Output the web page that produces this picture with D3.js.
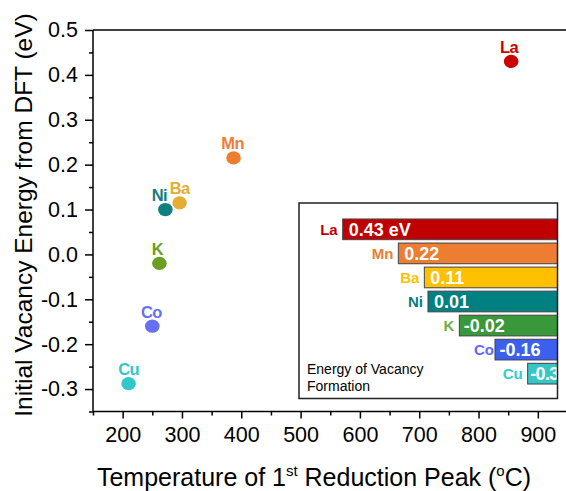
<!DOCTYPE html>
<html>
<head>
<meta charset="utf-8">
<script src="https://cdn.jsdelivr.net/npm/d3@7/dist/d3.min.js"></script>
<style>
  html, body { margin: 0; padding: 0; background: #fff; }
  svg { display: block; font-family: "Liberation Sans", Arial, sans-serif; }
</style>
</head>
<body>
<svg id="chart" width="566" height="491"></svg>
<script>
// ---- data ----
const elements       = ["La", "Mn", "Ba", "Ni", "K", "Co", "Cu"];
const reductionTemp  = [855, 387, 296, 272, 262, 250, 210];          // °C
const vacancyEnergy  = [0.43, 0.215, 0.115, 0.10, -0.02, -0.16, -0.288]; // eV
const insetEnergy    = [0.43, 0.22, 0.11, 0.01, -0.02, -0.16, -0.30];   // eV (inset labels)
const insetBarLength = [100, 74.1, 62.0, 60.3, 45.7, 29.1, 13.9];       // relative bar length (% of La)
const xTicks = [200, 300, 400, 500, 600, 700, 800, 900];
const yTicks = [-0.3, -0.2, -0.1, 0.0, 0.1, 0.2, 0.3, 0.4, 0.5];
const xMinor = [150, 250, 350, 450, 550, 650, 750, 850, 950];
const yMinor = [-0.35, -0.25, -0.15, -0.05, 0.05, 0.15, 0.25, 0.35, 0.45];

// ---- styles ----
const dotColor = {La:"#cc0000", Mn:"#ed7d31", Ba:"#e4ad33", Ni:"#0f7f7f", K:"#6a9f22", Co:"#6670f2", Cu:"#30c8c8"};
const barColor = {La:"#c00000", Mn:"#ed7d31", Ba:"#ffc000", Ni:"#008080", K:"#38983a", Co:"#3d5ff0", Cu:"#36c6c6"};
const insetLabelColor = {La:"#c00000", Mn:"#ed7d31", Ba:"#ffc000", Ni:"#007f7f", K:"#70ad47", Co:"#6666ff", Cu:"#33cccc"};
const labelShift = {La:-2, Ni:-6, Mn:-1, K:-2, Co:-1};

const svg = d3.select("#chart");
svg.append("rect").attr("width", 566).attr("height", 491).attr("fill", "#fff");

const x = d3.scaleLinear().domain([150, 950]).range([93, 567.5]);
const y = d3.scaleLinear().domain([-0.35, 0.5]).range([411.5, 30]);

const axisStroke = 1.5;

// minor ticks
svg.append("g").attr("transform", "translate(93,0)")
  .call(d3.axisLeft(y).tickValues(yMinor).tickSize(4).tickFormat(""))
  .call(g => g.select(".domain").remove())
  .call(g => g.selectAll("line").attr("stroke-width", axisStroke));
svg.append("g").attr("transform", "translate(0,411.5)")
  .call(d3.axisBottom(x).tickValues(xMinor).tickSize(4).tickFormat(""))
  .call(g => g.select(".domain").remove())
  .call(g => g.selectAll("line").attr("stroke-width", axisStroke));

// major axes
svg.append("g").attr("transform", "translate(93,0)")
  .call(d3.axisLeft(y).tickValues(yTicks).tickSize(8).tickPadding(7).tickFormat(d3.format(".1f")))
  .call(g => g.select(".domain").remove())
  .call(g => g.selectAll("line").attr("stroke-width", axisStroke))
  .call(g => g.selectAll("text").attr("font-size", 21.5).attr("fill", "#000")
      .attr("font-family", "Liberation Sans, Arial, sans-serif")
      .text(d => d3.format(".1f")(d).replace("\u2212", "-")));
svg.append("g").attr("transform", "translate(0,411.5)")
  .call(d3.axisBottom(x).tickValues(xTicks).tickSize(7).tickPadding(8).tickFormat(d3.format("d")))
  .call(g => g.select(".domain").remove())
  .call(g => g.selectAll("line").attr("stroke-width", axisStroke))
  .call(g => g.selectAll("text").attr("font-size", 21.5).attr("fill", "#000")
      .attr("font-family", "Liberation Sans, Arial, sans-serif"));

// frame lines
svg.append("line").attr("x1", 93).attr("x2", 93).attr("y1", y(0.5)).attr("y2", y(-0.35))
  .attr("stroke", "#000").attr("stroke-width", axisStroke);
svg.append("line").attr("x1", 93).attr("x2", 566).attr("y1", y(-0.35)).attr("y2", y(-0.35))
  .attr("stroke", "#000").attr("stroke-width", axisStroke);
svg.append("line").attr("x1", 93).attr("x2", 566).attr("y1", y(0.5)).attr("y2", y(0.5))
  .attr("stroke", "#000").attr("stroke-width", axisStroke);

// axis titles
svg.append("text")
  .attr("transform", `translate(32,${215}) rotate(-90)`)
  .attr("text-anchor", "middle").attr("font-size", 24.5).attr("fill", "#000")
  .text("Initial Vacancy Energy from DFT (eV)");

const xt = svg.append("text").attr("x", 314).attr("y", 486)
  .attr("text-anchor", "middle").attr("font-size", 25).attr("fill", "#000");
xt.append("tspan").text("Temperature of 1");
xt.append("tspan").attr("font-size", 15).attr("dy", -10).text("st");
xt.append("tspan").attr("dy", 10).text(" Reduction Peak (");
xt.append("tspan").attr("font-size", 15).attr("dy", -10).text("o");
xt.append("tspan").attr("dy", 10).text("C)");

// scatter points
const pts = elements.map((e, i) => ({name: e, t: reductionTemp[i], v: vacancyEnergy[i]}));
svg.append("g").selectAll("ellipse").data(pts).join("ellipse")
  .attr("cx", d => x(d.t)).attr("cy", d => y(d.v))
  .attr("rx", 7.3).attr("ry", 6.6)
  .attr("fill", d => dotColor[d.name]);
svg.append("g").selectAll("text").data(pts).join("text")
  .attr("x", d => x(d.t) + (labelShift[d.name] || 0))
  .attr("y", d => y(d.v) - 8.5)
  .attr("text-anchor", "middle")
  .attr("font-size", 16.5).attr("font-weight", "bold").attr("letter-spacing", -0.6)
  .attr("fill", d => dotColor[d.name])
  .text(d => d.name);

// ---- inset ----
const box = {x0: 299, x1: 557.5, y0: 203, y1: 398.5};
const inset = svg.append("g");
inset.append("rect").attr("x", box.x0).attr("y", box.y0)
  .attr("width", box.x1 - box.x0).attr("height", box.y1 - box.y0)
  .attr("fill", "#fff");

const bars = elements.map((e, i) => ({name: e, val: insetEnergy[i], len: insetBarLength[i]}));
const yb = d3.scaleBand().domain(elements).range([217.3, 385.7]).paddingInner(0.14).paddingOuter(0.07);
const wb = d3.scaleLinear().domain([0, 100]).range([0, 214.8]);

svg.append("defs").append("clipPath").attr("id", "insetClip")
  .append("rect").attr("x", box.x0).attr("y", box.y0)
  .attr("width", box.x1 - box.x0).attr("height", box.y1 - box.y0);

const ig = inset.append("g").attr("clip-path", "url(#insetClip)");

ig.selectAll("text.cat").data(bars).join("text").attr("class", "cat")
  .attr("x", d => box.x1 - wb(d.len) - (d.name === "Co" ? 1 : 5))
  .attr("y", d => yb(d.name) + yb.bandwidth() / 2 + 5.5)
  .attr("text-anchor", "end").attr("font-size", 15).attr("font-weight", "bold")
  .attr("fill", d => insetLabelColor[d.name])
  .text(d => d.name);

ig.selectAll("rect.bar").data(bars).join("rect").attr("class", "bar")
  .attr("x", d => box.x1 - wb(d.len)).attr("y", d => yb(d.name))
  .attr("width", d => wb(d.len) + 4).attr("height", yb.bandwidth())
  .attr("fill", d => barColor[d.name]).attr("stroke", "#444").attr("stroke-width", 1);

ig.selectAll("text.val").data(bars).join("text").attr("class", "val")
  .attr("x", d => box.x1 - wb(d.len) + (wb(d.len) < 40 ? 2.5 : (d.val < 0 ? 4.5 : 6)))
  .attr("y", d => yb(d.name) + yb.bandwidth() / 2 + 6.5)
  .attr("font-size", 18).attr("font-weight", "bold").attr("fill", "#fff")
  .attr("letter-spacing", d => wb(d.len) < 40 ? -0.6 : 0)
  .text((d, i) => d.val.toFixed(2) + (i === 0 ? " eV" : ""));

inset.append("text").attr("x", 307).attr("y", 373.5).attr("font-size", 14).attr("fill", "#000")
  .text("Energy of Vacancy");
inset.append("text").attr("x", 307).attr("y", 390.5).attr("font-size", 14).attr("fill", "#000")
  .text("Formation");

inset.append("rect").attr("x", box.x0).attr("y", box.y0)
  .attr("width", box.x1 - box.x0).attr("height", box.y1 - box.y0)
  .attr("fill", "none").attr("stroke", "#222").attr("stroke-width", 1.5);
</script>
</body>
</html>
